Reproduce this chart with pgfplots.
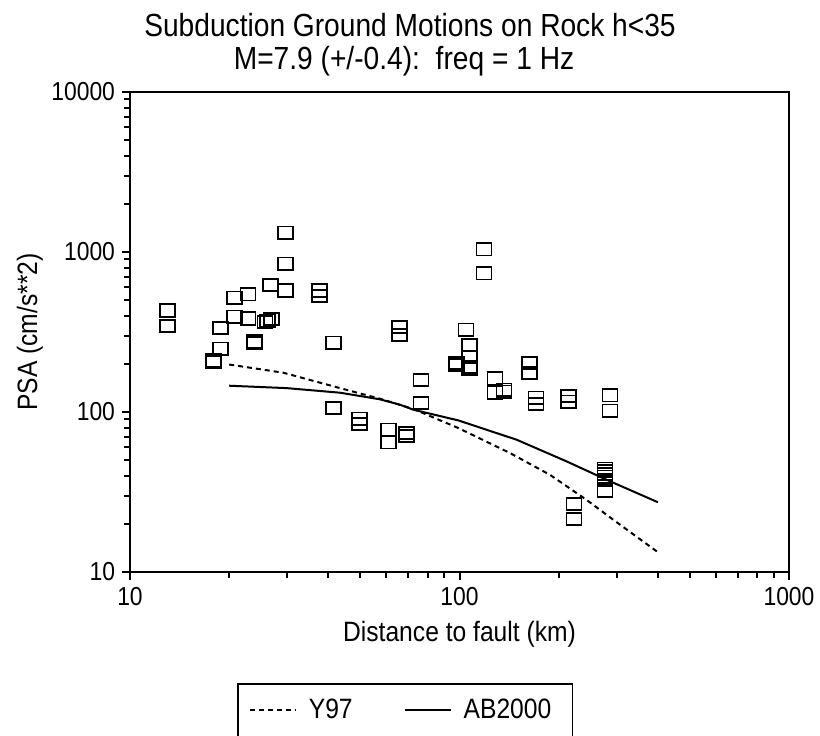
\documentclass[border=0pt]{standalone}
\usepackage{fontspec}
\setmainfont{Liberation Sans}[FakeStretch=0.88]
\usepackage{pgfplots}
\pgfplotsset{compat=1.18}
\begin{document}
\begin{tikzpicture}
\begin{axis}[
  at={(0pt,0pt)}, anchor=south west,
  scale only axis, width=329.5pt, height=240pt,
  clip mode=individual,
  xmode=log, ymode=log,
  xmin=10, xmax=1000, ymin=10, ymax=10000,
  axis line style={line width=1pt},
  every tick/.style={black, line width=1pt},
  major tick length=4pt, minor tick length=3pt,
  tick align=outside, tick pos=left,
  xtick={10,100,1000}, xticklabels={10,100,1000},
  minor xtick={20,30,40,50,60,70,80,90,200,300,400,500,600,700,800,900},
  ytick={10,100,1000,10000}, yticklabels={10,100,1000,10000},
  minor ytick={20,30,40,50,60,70,80,90,200,300,400,500,600,700,800,900,2000,3000,4000,5000,6000,7000,8000,9000},
  tick label style={font=\fontsize{13}{15}\selectfont},
  xlabel={Distance to fault (km)},
  ylabel={PSA (cm/s**2)},
  x label style={at={(axis description cs:0.5,-0.14375)}, anchor=base, font=\fontsize{14}{16}\selectfont},
  y label style={at={(axis description cs:-0.1411,0.5)}, rotate=0, anchor=base, font=\fontsize{14}{16}\selectfont},
  title={Subduction Ground Motions on Rock h<35},
  title style={at={(axis description cs:0.4249,1.1146)}, anchor=base, yshift=-6pt, font=\fontsize{16}{18}\selectfont},
  legend columns=2,
  legend style={at={(axis description cs:0.1624,-0.23125)}, anchor=north west,
    draw=black, line width=0.8pt, inner xsep=5.5pt, inner ysep=5.5pt,
    font=\fontsize{14}{16}\selectfont,
    nodes={inner ysep=2pt},
    /tikz/every odd column/.append style={column sep=4pt},
    /tikz/every even column/.append style={column sep=23.5pt}},
  legend image code/.code={\draw[#1] (0pt,0pt) -- (23pt,0pt);},
]
\addplot[only marks, mark=square, mark size=3.75pt, black,
  mark options={solid, line width=0.9pt, yscale=0.82, rounded corners=0.8pt},
  forget plot] coordinates {
(13,431) (13,344)
(17.9,205) (17.9,210)
(18.8,336) (18.8,249)
(20.8,518) (20.8,394)
(22.8,543) (22.8,384)
(23.9,270) (23.9,276)
(25.7,366) (26.1,372) (26.9,382)
(26.7,621)
(29.6,1322) (29.6,846) (29.6,575)
(37.7,575) (37.7,530)
(41.4,271) (41.4,106)
(49.7,91) (49.7,84)
(60.8,77.5) (60.8,64.6)
(65.7,341) (65.7,303)
(69.2,73.7) (69.2,70.9)
(76.4,158) (76.4,114)
(98.1,197) (98.1,203)
(104.6,327)
(107.1,262) (107.1,221) (107.1,186) (107.1,191)
(118.7,1039) (118.7,735)
(128.2,162) (128.2,132)
(136.5,134) (136.5,138)
(162.8,203) (162.8,175)
(170.7,123) (170.7,112)
(213.9,126) (213.9,116)
(222.6,26.7) (222.6,21.5)
(276.5,44.2) (276.5,42.9) (276.5,41.1) (276.5,39.4) (276.5,37.7) (276.5,32.2)
(286.2,127) (286.2,102)
};
\addplot[black, line width=1pt, dash pattern=on 2.5pt off 2pt, no marks] coordinates {
(20,198) (29.2,176) (43.4,141) (57.4,121) (72.4,104.5) (99.2,79.4) (142.3,55.4) (188.2,40.5) (243.2,28.2) (293,21.2) (400,13.3)
};
\addlegendentry{Y97}
\addplot[black, line width=1pt, solid, no marks] coordinates {
(20,146) (29.9,141) (43.4,132) (57.4,120) (66,111) (72.4,103.4) (99.2,88.6) (149.1,67.1) (211.5,49.1) (279.7,37.7) (400,27.3)
};
\addlegendentry{AB2000\hspace*{3pt}}
\node[anchor=base, font=\fontsize{16}{18}\selectfont] at (axis description cs:0.4158,1.0479) {M=7.9 (+/-0.4):\ \ freq = 1 Hz};
\coordinate (bl) at (axis description cs:0,0);
\end{axis}
\pgfresetboundingbox
\path[use as bounding box] ([xshift=-65pt,yshift=-81.5pt]bl) rectangle ([xshift=345pt,yshift=286pt]bl);
\end{tikzpicture}
\end{document}
